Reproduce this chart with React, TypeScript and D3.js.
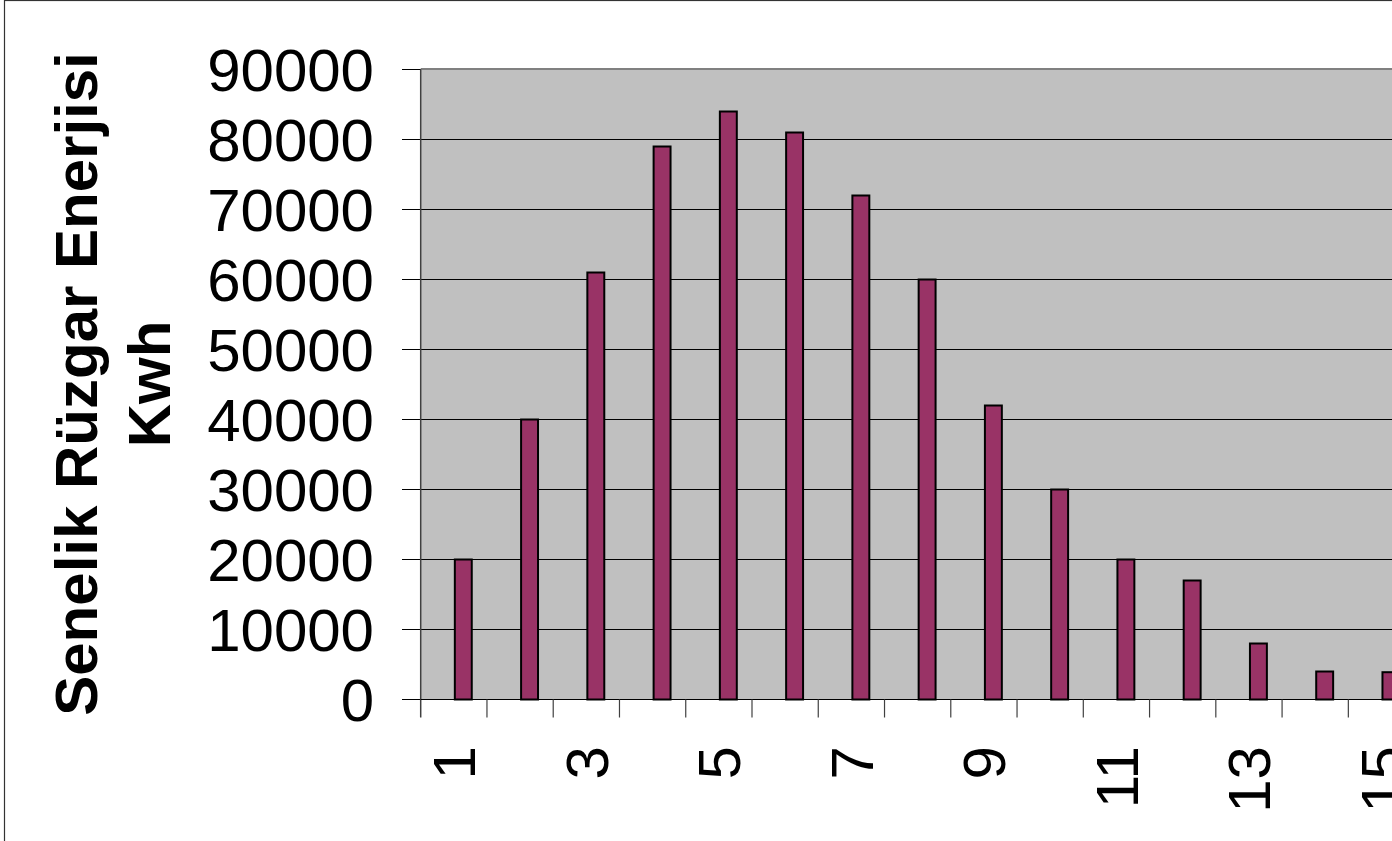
import React from "react";
import * as d3 from "d3";

const categories: string[] = ["1","2","3","4","5","6","7","8","9","10","11","12","13","14","15"];
const energyValues: number[] = [20000, 40000, 61000, 79000, 84000, 81000, 72000, 60000, 42000, 30000, 20000, 17000, 8000, 4000, 3900];
const yTicks: number[] = [0, 10000, 20000, 30000, 40000, 50000, 60000, 70000, 80000, 90000];
const xLabelShown: string[] = ["1","3","5","7","9","11","13","15"];
const titleLines: string[] = ["Senelik Rüzgar Enerjisi", "Kwh"];

const W = 1392;
const H = 841;
const plotLeft = 420.7;
const bandW = 66.26;
const plotRight = plotLeft + bandW * categories.length;
const plotTop = 69.5;
const plotBottom = 699.5;
const FONT = "'Liberation Sans', Arial, sans-serif";

export default function App() {
  const x = d3.scaleBand<string>().domain(categories).range([plotLeft, plotRight]).padding(0);
  const y = d3.scaleLinear().domain([0, 90000]).range([plotBottom, plotTop]);
  const bw = x.bandwidth();
  const barW = bw / 3.5;

  return (
    <div style={{ position: "fixed", left: 0, top: 0, width: W, height: H, overflow: "hidden", background: "#fff" }}>
      <svg width={W} height={H} style={{ display: "block" }}>
        <rect x={0} y={0} width={W} height={H} fill="#fff" />
        {/* outer chart border */}
        <rect x={4.5} y={0.5} width={W + 50} height={H + 50} fill="none" stroke="#333" strokeWidth={1.2} />
        {/* plot area */}
        <rect x={plotLeft} y={plotTop} width={plotRight - plotLeft} height={plotBottom - plotTop} fill="#C0C0C0" />
        {/* gridlines */}
        {yTicks.map((t) => (
          <line key={"g" + t} x1={plotLeft} x2={plotRight} y1={y(t)} y2={y(t)} stroke="#000" strokeWidth={1} />
        ))}
        <line x1={plotLeft} x2={plotRight} y1={plotTop - 0.5} y2={plotTop - 0.5} stroke="#808080" strokeWidth={2} />
        {/* y ticks and labels */}
        {yTicks.map((t) => (
          <g key={"yt" + t}>
            <line x1={402} x2={plotLeft} y1={y(t)} y2={y(t)} stroke="#000" strokeWidth={1} />
            <text x={374} y={y(t) + 21.5} textAnchor="end" fontFamily={FONT} fontSize={60} fill="#000">
              {t}
            </text>
          </g>
        ))}
        {/* y axis line */}
        <line x1={plotLeft} x2={plotLeft} y1={plotTop} y2={plotBottom + 18} stroke="#404040" strokeWidth={1.5} />
        {/* x axis line */}
        <line x1={plotLeft} x2={plotRight} y1={plotBottom} y2={plotBottom} stroke="#000" strokeWidth={1} />
        {/* x ticks */}
        {categories.map((c) => (
          <line key={"xt" + c} x1={(x(c) as number) + bw} x2={(x(c) as number) + bw} y1={plotBottom} y2={plotBottom + 18} stroke="#404040" strokeWidth={1.2} />
        ))}
        {/* bars */}
        {categories.map((c, i) => {
          const x0 = (x(c) as number) + bw / 2;
          const top = y(energyValues[i]);
          return (
            <rect key={"b" + c} x={x0 + 1} y={top} width={barW - 2} height={plotBottom - top} fill="#993366" stroke="#000" strokeWidth={2} />
          );
        })}
        {/* x labels */}
        {categories.filter((c) => xLabelShown.includes(c)).map((c) => {
          const cx = (x(c) as number) + bw / 2 + 21.5;
          const ty = 746;
          return (
            <text key={"xl" + c} x={0} y={0} transform={`translate(${cx},${ty}) rotate(-90)`} textAnchor="end" fontFamily={FONT} fontSize={60} fill="#000">
              {c}
            </text>
          );
        })}
        {/* y title */}
        {titleLines.map((ln, i) => (
          <text key={"tt" + i} x={0} y={0} transform={`translate(${97 + i * 73},384) rotate(-90)`} textAnchor="middle" fontFamily={FONT} fontWeight="bold" fontSize={60} fill="#000">
            {ln}
          </text>
        ))}
      </svg>
    </div>
  );
}
